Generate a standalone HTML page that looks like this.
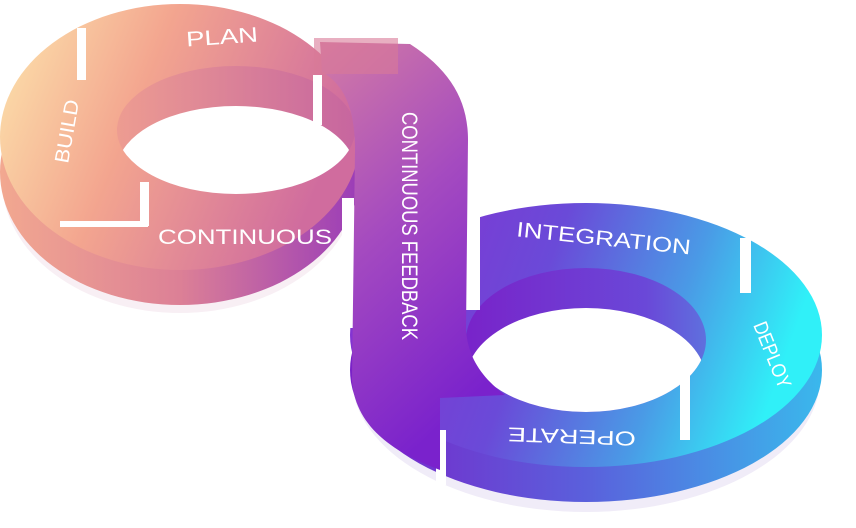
<!DOCTYPE html>
<html><head><style>html,body{margin:0;padding:0;background:#fff;width:856px;height:528px;overflow:hidden}</style></head>
<body>
<svg width="856" height="528" viewBox="0 0 856 528" xmlns="http://www.w3.org/2000/svg" font-family="Liberation Sans, sans-serif">
<defs>
<linearGradient id="tr" x1="0" y1="0" x2="1" y2="0.3">
<stop offset="0" stop-color="#fde6ad"/><stop offset="0.45" stop-color="#f3a58f"/><stop offset="1" stop-color="#d06c9e"/></linearGradient>
<linearGradient id="trd" x1="0" y1="0" x2="1" y2="0">
<stop offset="0" stop-color="#f2a890"/><stop offset="0.5" stop-color="#dc8096"/><stop offset="1" stop-color="#9a3cb8"/></linearGradient>
<linearGradient id="trw" x1="0" y1="0" x2="1" y2="0">
<stop offset="0" stop-color="#f0a090"/><stop offset="1" stop-color="#c462a0"/></linearGradient>
<linearGradient id="br" x1="0" y1="0" x2="1" y2="0.2">
<stop offset="0" stop-color="#8a2ed0"/><stop offset="0.45" stop-color="#6a4ad8"/><stop offset="0.75" stop-color="#4a9ae6"/><stop offset="1" stop-color="#30f0f8"/></linearGradient>
<linearGradient id="brd" x1="0" y1="0" x2="1" y2="0">
<stop offset="0" stop-color="#7a22c8"/><stop offset="0.5" stop-color="#5a60dc"/><stop offset="1" stop-color="#3ab8ec"/></linearGradient>
<linearGradient id="brw" x1="0" y1="0" x2="1" y2="0">
<stop offset="0" stop-color="#7a20c8"/><stop offset="0.7" stop-color="#6a48d8"/><stop offset="1" stop-color="#5a80e0"/></linearGradient>
<linearGradient id="bd" x1="0" y1="0" x2="0.4" y2="1">
<stop offset="0" stop-color="#d47ca4"/><stop offset="0.5" stop-color="#a44ac0"/><stop offset="1" stop-color="#7a22cc"/></linearGradient>
<clipPath id="h1"><ellipse cx="236" cy="130" rx="119" ry="64"/></clipPath>
<clipPath id="h2"><ellipse cx="586" cy="340" rx="120" ry="72"/></clipPath>
</defs>
<ellipse cx="180" cy="180" rx="178" ry="133" fill="#f8eff4"/>
<ellipse cx="586" cy="378" rx="234" ry="134" fill="#f0ecf8"/>
<!-- top ring -->
<ellipse cx="180" cy="172" rx="180" ry="133" fill="url(#trd)"/>
<ellipse cx="180" cy="137" rx="180" ry="133" fill="url(#tr)"/>
<g clip-path="url(#h1)">
<rect x="100" y="50" width="270" height="160" fill="url(#trw)"/>
<ellipse cx="236" cy="170" rx="119" ry="64" fill="#fff"/>
</g>
<!-- bottom ring -->
<ellipse cx="586" cy="370" rx="236" ry="132" fill="url(#brd)"/>
<ellipse cx="586" cy="335" rx="236" ry="132" fill="url(#br)"/>
<g clip-path="url(#h2)">
<rect x="450" y="250" width="280" height="180" fill="url(#brw)"/>
<ellipse cx="586" cy="380" rx="120" ry="72" fill="#fff"/>
</g>
<g fill="#fff">
<rect x="77" y="28" width="9" height="52"/>
<rect x="140" y="182" width="9" height="44"/>
<rect x="60" y="221" width="88" height="6"/>
<rect x="313" y="75" width="9" height="50"/>
<rect x="342" y="198" width="12" height="130"/>
<rect x="466" y="200" width="14" height="110"/>
<rect x="740" y="238" width="11" height="55"/>
<rect x="680" y="375" width="10" height="65"/>
<rect x="436" y="430" width="10" height="55"/>
</g>
<path fill="url(#bd)" d="M320,42 L410,44 C450,70 468,100 468,140 L466,330 C468,360 485,380 505,395 L440,398 L440,470 C400,455 355,430 352,380 L355,150 C355,110 345,85 322,72 Z"/>
<rect x="314" y="38" width="84" height="36" fill="#d87a98" opacity="0.6"/>
<g fill="#fff" font-size="21">
<text x="186" y="44" transform="rotate(-4 222 37)" textLength="72" lengthAdjust="spacingAndGlyphs">PLAN</text>
<text x="0" y="0" transform="translate(68,164) rotate(-80)" font-size="20" textLength="64" lengthAdjust="spacingAndGlyphs">BUILD</text>
<text x="158" y="244" textLength="174" lengthAdjust="spacingAndGlyphs">CONTINUOUS</text>
<text x="0" y="0" transform="translate(402,112) rotate(90)" font-size="22" textLength="228" lengthAdjust="spacingAndGlyphs">CONTINUOUS FEEDBACK</text>
<text x="516" y="245" transform="rotate(6 600 240)" textLength="175" lengthAdjust="spacingAndGlyphs">INTEGRATION</text>
<text x="0" y="0" transform="translate(753,325) rotate(68)" font-size="20" textLength="70" lengthAdjust="spacingAndGlyphs">DEPLOY</text>
<text x="0" y="0" transform="translate(636,432) rotate(182)" font-size="20" textLength="128" lengthAdjust="spacingAndGlyphs">OPERATE</text>
</g>
</svg>
</body></html>
